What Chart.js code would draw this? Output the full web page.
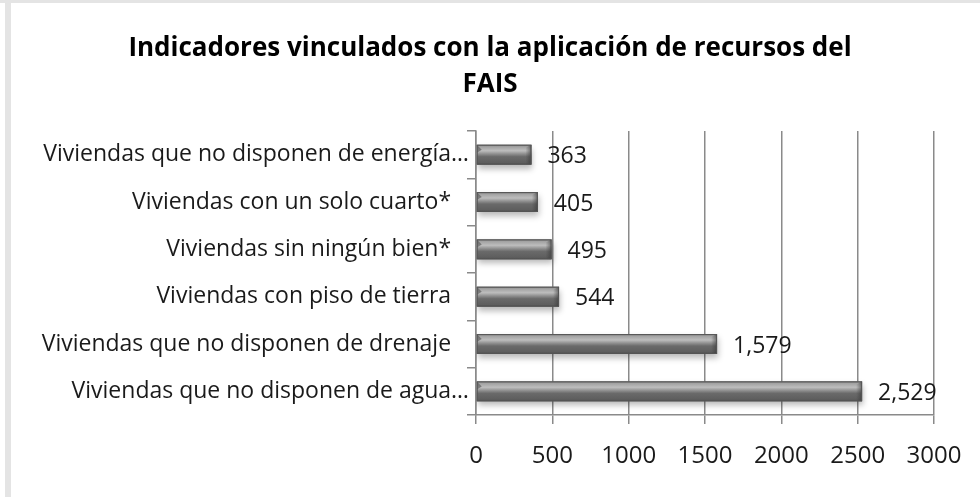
<!DOCTYPE html>
<html>
<head>
<meta charset="utf-8">
<script src="https://cdn.jsdelivr.net/npm/chart.js@4"></script>
<style>
  html, body { margin: 0; padding: 0; background: #ffffff; }
  #wrap { position: relative; width: 980px; height: 497px; overflow: hidden; background: #ffffff; }
  #stripL { position: absolute; left: 5px; top: 0; width: 6px; height: 497px; background: #e4e4e4; }
  #stripT { position: absolute; left: 0; top: 0; width: 980px; height: 3px; background: #e4e4e4; }
  canvas { position: absolute; left: 0; top: 0; }
</style>
</head>
<body>
<div id="wrap">
  <div id="stripL"></div>
  <div id="stripT"></div>
  <canvas id="c" width="980" height="497"></canvas>
</div>
<script>
const titleLines = ["Indicadores vinculados con la aplicación de recursos del", "FAIS"];
const categories = [
  "Viviendas que no disponen de energía…",
  "Viviendas con un solo cuarto*",
  "Viviendas sin ningún bien*",
  "Viviendas con piso de tierra",
  "Viviendas que no disponen de drenaje",
  "Viviendas que no disponen de agua…"
];
const values = [363, 405, 495, 544, 1579, 2529];
const xTicks = [0, 500, 1000, 1500, 2000, 2500, 3000];

const FONT = "'Open Sans', sans-serif";
const GRID = "#8a8a8a";

const barStyle = {
  id: 'barStyle',
  beforeDatasetsDraw(chart) {
    const ctx = chart.ctx;
    ctx.save();
    ctx.shadowColor = 'rgba(0,0,0,0.28)';
    ctx.shadowBlur = 6;
    ctx.shadowOffsetY = 4;
    ctx.shadowOffsetX = 1;
  },
  afterDatasetsDraw(chart) {
    const ctx = chart.ctx;
    ctx.restore();
    const meta = chart.getDatasetMeta(0);
    meta.data.forEach((bar, i) => {
      const x0 = bar.base, x1 = bar.x;
      const h = bar.height;
      const y0 = bar.y - h / 2, y1 = bar.y + h / 2;
      const g = ctx.createLinearGradient(0, y0, 0, y1);
      g.addColorStop(0, '#7a7a7a');
      g.addColorStop(0.1, '#a2a2a2');
      g.addColorStop(0.3, '#bdbdbd');
      g.addColorStop(0.48, '#8a8a8a');
      g.addColorStop(0.6, '#6a6a6a');
      g.addColorStop(0.9, '#5e5e5e');
      g.addColorStop(1, '#4e4e4e');
      ctx.save();
      ctx.fillStyle = g;
      ctx.fillRect(x0, y0, x1 - x0, h);
      const cg = ctx.createLinearGradient(x1 - 6, 0, x1, 0);
      cg.addColorStop(0, 'rgba(60,60,60,0)');
      cg.addColorStop(1, 'rgba(50,50,50,0.6)');
      ctx.fillStyle = cg;
      ctx.beginPath();
      ctx.moveTo(x1 - 6, y0 + 3);
      ctx.lineTo(x1, y0);
      ctx.lineTo(x1, y1);
      ctx.lineTo(x1 - 6, y1);
      ctx.closePath();
      ctx.fill();
      ctx.fillStyle = 'rgba(60,60,60,0.5)';
      ctx.beginPath();
      ctx.moveTo(x0, y0);
      ctx.lineTo(x0 + 5, y0 + 5);
      ctx.lineTo(x0, y0 + 8);
      ctx.closePath();
      ctx.fill();
      ctx.strokeStyle = '#555555';
      ctx.lineWidth = 1;
      ctx.strokeRect(x0 + 0.5, y0 + 0.5, x1 - x0 - 1, h - 1);
      ctx.fillStyle = '#1a1a1a';
      ctx.font = "23px " + FONT;
      ctx.textAlign = 'left';
      ctx.textBaseline = 'middle';
      ctx.fillText(values[i].toLocaleString('en-US'), x1 + 16, bar.y + 2);
      ctx.restore();
    });
  }
};

new Chart(document.getElementById('c'), {
  type: 'bar',
  data: {
    labels: categories,
    datasets: [{
      data: values,
      backgroundColor: '#777777',
      borderWidth: 0,
      barPercentage: 0.42,
      categoryPercentage: 1.0
    }]
  },
  options: {
    indexAxis: 'y',
    responsive: false,
    animation: false,
    layout: { padding: { left: 0, right: 0, top: 31, bottom: 0 } },
    plugins: {
      legend: { display: false },
      tooltip: { enabled: false },
      title: {
        display: true,
        text: titleLines,
        color: '#000000',
        font: { family: FONT, size: 26, weight: 'bold', lineHeight: 1.385 },
        padding: { top: 0, bottom: 28 }
      }
    },
    scales: {
      x: {
        min: xTicks[0],
        max: xTicks[xTicks.length - 1],
        afterBuildTicks(scale) { scale.ticks = xTicks.map(v => ({ value: v })); },
        afterFit(scale) { scale.height = 497 - 415; },
        ticks: {
          color: '#1a1a1a',
          font: { family: FONT, size: 24 },
          padding: 18,
          maxRotation: 0,
          callback: v => String(v)
        },
        grid: { color: GRID, lineWidth: 1.5, tickLength: 9, drawTicks: true },
        border: { color: GRID, width: 1.5 }
      },
      y: {
        afterFit(scale) { scale.width = 476; },
        ticks: {
          color: '#1a1a1a',
          font: { family: FONT, size: 23 },
          padding: -2,
          callback: function (v) {
            const s = categories[v];
            return s.endsWith('…') ? s : s + '   ';
          }
        },
        grid: { display: true, drawOnChartArea: false, offset: true, color: GRID, lineWidth: 1.5, tickLength: 9 },
        border: { color: GRID, width: 1.5 }
      },
      yRight: {
        type: 'category',
        position: 'right',
        display: true,
        afterFit(scale) { scale.width = 980 - 934; },
        ticks: { display: false },
        grid: { display: false, drawTicks: false },
        border: { display: false }
      }
    }
  },
  plugins: [barStyle]
});
</script>
</body>
</html>
